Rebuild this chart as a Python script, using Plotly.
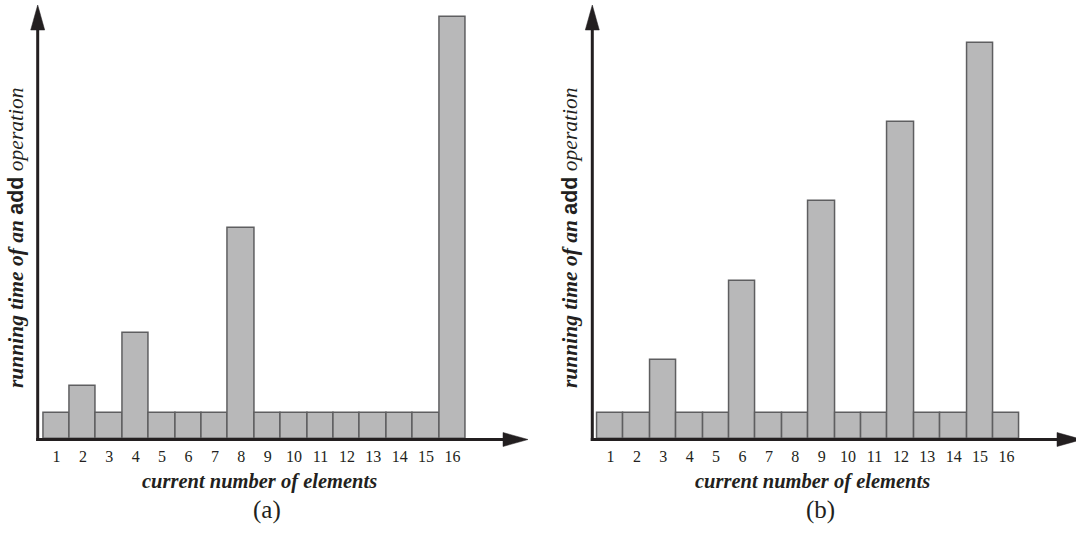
import plotly.graph_objects as go

# ---- data ----
elements = list(range(1, 17))
tick_labels = [str(i) for i in elements]
time_doubling = [1, 2, 1, 4, 1, 1, 1, 8, 1, 1, 1, 1, 1, 1, 1, 16]
time_increment = [1, 1, 3, 1, 1, 6, 1, 1, 9, 1, 1, 12, 1, 1, 15, 1]

W, H = 1076, 534
INK = "#231f20"
SERIF = "Liberation Serif, Times New Roman, serif"

def px(x):
    return x / W

def py(y):
    return 1 - y / H

fig = go.Figure()

bar_style = dict(marker=dict(color="#b8b8b9", line=dict(color="#5e5e60", width=1.5)),
                 width=1.0, showlegend=False, hoverinfo="skip")
fig.add_trace(go.Bar(x=elements, y=time_doubling, xaxis="x", yaxis="y", **bar_style))
fig.add_trace(go.Bar(x=elements, y=time_increment, xaxis="x2", yaxis="y2", **bar_style))

unit = 26.4
base_px = 439.0
top_px = 5.0
yrange = [0, (base_px - top_px) / unit]

panels = [
    dict(yaxis_x=37.7, bar_left=43.3, right=528.0, tip=528.0, xa="xaxis", ya="yaxis", anchor_y="y", anchor_x="x"),
    dict(yaxis_x=592.3, bar_left=597.3, right=1076.0, tip=1082.0, xa="xaxis2", ya="yaxis2", anchor_y="y2", anchor_x="x2"),
]

layout_axes = {}
shapes = []
for p in panels:
    left_data = 0.5 - (p["bar_left"] - p["yaxis_x"]) / unit
    right_data = 0.5 + (p["right"] - p["bar_left"]) / unit
    layout_axes[p["xa"]] = dict(
        domain=[px(p["yaxis_x"]), px(p["right"])], range=[left_data, right_data],
        anchor=p["anchor_y"], tickmode="array", tickvals=elements, ticktext=tick_labels,
        showgrid=False, zeroline=False, showline=False, ticks="",
        tickfont=dict(family=SERIF, size=16, color=INK), ticklabelstandoff=6,
        fixedrange=True,
    )
    layout_axes[p["ya"]] = dict(
        domain=[py(base_px), py(top_px)], range=yrange, anchor=p["anchor_x"],
        showgrid=False, zeroline=False, showline=False, showticklabels=False, ticks="",
        fixedrange=True,
    )
    ax = p["yaxis_x"]
    shapes.append(dict(type="line", xref="paper", yref="paper",
                       x0=px(ax), x1=px(ax), y0=py(441), y1=py(28),
                       line=dict(color=INK, width=3)))
    shapes.append(dict(type="path", xref="paper", yref="paper",
                       path=f"M {px(ax-7)} {py(30)} L {px(ax+7)} {py(30)} L {px(ax)} {py(5)} Z",
                       fillcolor=INK, line=dict(color=INK, width=0.5)))
    shapes.append(dict(type="line", xref="paper", yref="paper",
                       x0=px(ax - 1.5), x1=px(p["tip"] - 23), y0=py(439.5), y1=py(439.5),
                       line=dict(color=INK, width=3)))
    shapes.append(dict(type="path", xref="paper", yref="paper",
                       path=f"M {px(p['tip']-25)} {py(432.5)} L {px(p['tip']-25)} {py(446.5)} L {px(p['tip'])} {py(439.5)} Z",
                       fillcolor=INK, line=dict(color=INK, width=0.5)))

ylabel = ("<b><i>running time of an </i></b>"
          "<span style=\"font-family:Liberation Sans;font-weight:bold;font-style:normal\">add</span>"
          "<i> operation</i>")

annotations = []
for xc, lab_x, sub_x, sub in [(16, 259, 267, "(a)"), (570, 812, 820, "(b)")]:
    annotations.append(dict(text=ylabel, x=px(xc), y=py(238), xref="paper", yref="paper",
                            textangle=-90, showarrow=False, xanchor="center", yanchor="middle",
                            font=dict(family=SERIF, size=21.5, color=INK)))
    annotations.append(dict(text="<b><i>current number of elements</i></b>", x=px(lab_x), y=py(481),
                            xref="paper", yref="paper", showarrow=False,
                            xanchor="center", yanchor="middle",
                            font=dict(family=SERIF, size=20.5, color=INK)))
    annotations.append(dict(text=sub, x=px(sub_x), y=py(510), xref="paper", yref="paper",
                            showarrow=False, xanchor="center", yanchor="middle",
                            font=dict(family=SERIF, size=25, color=INK)))

fig.update_layout(
    width=W, height=H, margin=dict(l=0, r=0, t=0, b=0),
    paper_bgcolor="white", plot_bgcolor="white",
    bargap=0, shapes=shapes, annotations=annotations,
    **layout_axes,
)

fig.write_html("out.html", config={"displayModeBar": False},
               post_script="document.body.style.margin='0';document.body.style.overflow='hidden';")
